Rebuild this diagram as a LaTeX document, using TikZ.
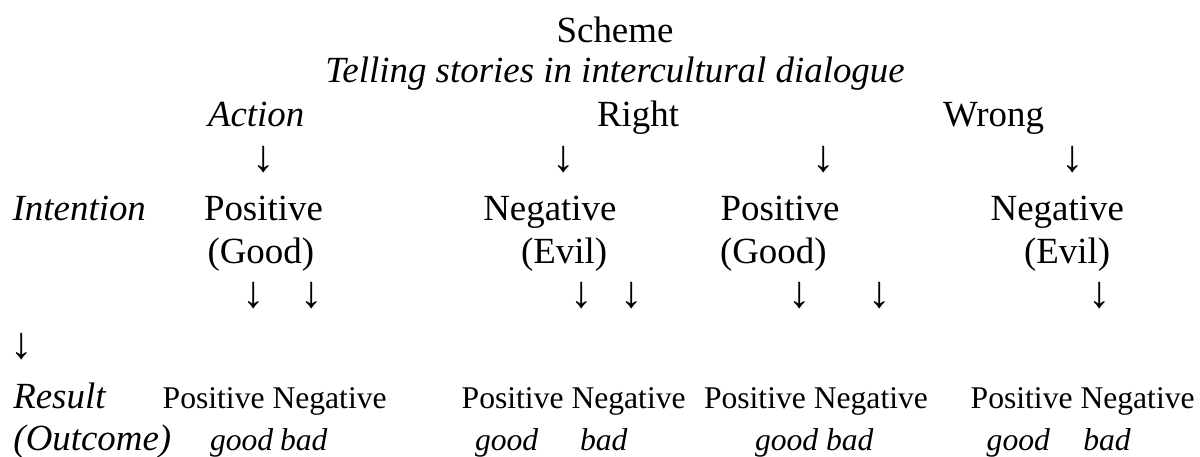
\documentclass[tikz,border=0pt]{standalone}
\usepackage{fontspec}
\setmainfont{Liberation Serif}
\usetikzlibrary{positioning}
\tikzset{scheme layout/.style={%
    x=0.3795pt,%
    y=-0.3795pt,%
    every node/.style={%
        inner sep=0pt, outer sep=0pt, anchor=base west%
    }%
}}
\tikzset{word/.style={font=\fontsize{14}{16}\selectfont}}
\tikzset{word it/.style={font=\fontsize{14}{16}\selectfont\itshape}}
\tikzset{word small/.style={font=\fontsize{12}{14}\selectfont}}
\tikzset{word small it/.style={font=\fontsize{12}{14}\selectfont\itshape}}
\tikzset{arrowsign/.style={font=\fontsize{17}{19}\selectfont, anchor=center}}

\begin{document}
\begin{tikzpicture}[scheme layout]
    \useasboundingbox (0,0) rectangle (1200,456);

    % heading
    \node[word, anchor=base] (title) at (615,42.7) {Scheme};
    \node[word it, anchor=base] (subtitle) at (615,82.7) {Telling stories in intercultural dialogue};

    % action
    \node[word it] (action) at (208,126.7) {Action};
    \node[word] (right) at (597,126.7) {Right};
    \node[word] (wrong) at (943,126.7) {Wrong};
    \foreach \x [count=\i] in {263.3,563.3,823.3,1072.7} {
        \node[arrowsign] (ra\i) at (\x,159.5) {↓};
    }

    % intention
    \node[word it] (intention) at (12.7,220.7) {Intention};
    \foreach \x/\y/\t/\s [count=\i] in {204/207.5/Positive/Good, 483.3/521/Negative/Evil, 720.7/720/Positive/Good, 990.7/1024/Negative/Evil} {
        \node[word] (int\i) at (\x,220.7) {\t};
        \node[word] (sense\i) at (\y,263) {(\s)};
    }
    \foreach \x [count=\i] in {253.3,311.7,581.7,631.7,800,880,1100} {
        \node[arrowsign] (ia\i) at (\x,295.5) {↓};
    }
    \node[arrowsign] (lone) at (21.7,346.5) {↓};

    % result
    \node[word it] (result) at (13.3,408.3) {Result};
    \node[word it] (outcome) at (13.5,450) {(Outcome)};
    \foreach \x/\g/\b [count=\i] in {162.7/210/280, 461.7/475/580, 704/755/826, 970.7/986.7/1083.3} {
        \node[word small] (pos\i) at (\x,408.3) {Positive};
        \node[word small, base right=3pt of pos\i] (neg\i) {Negative};
        \node[word small it] (good\i) at (\g,450) {good};
        \node[word small it] (bad\i) at (\b,450) {bad};
    }
\end{tikzpicture}
\end{document}
